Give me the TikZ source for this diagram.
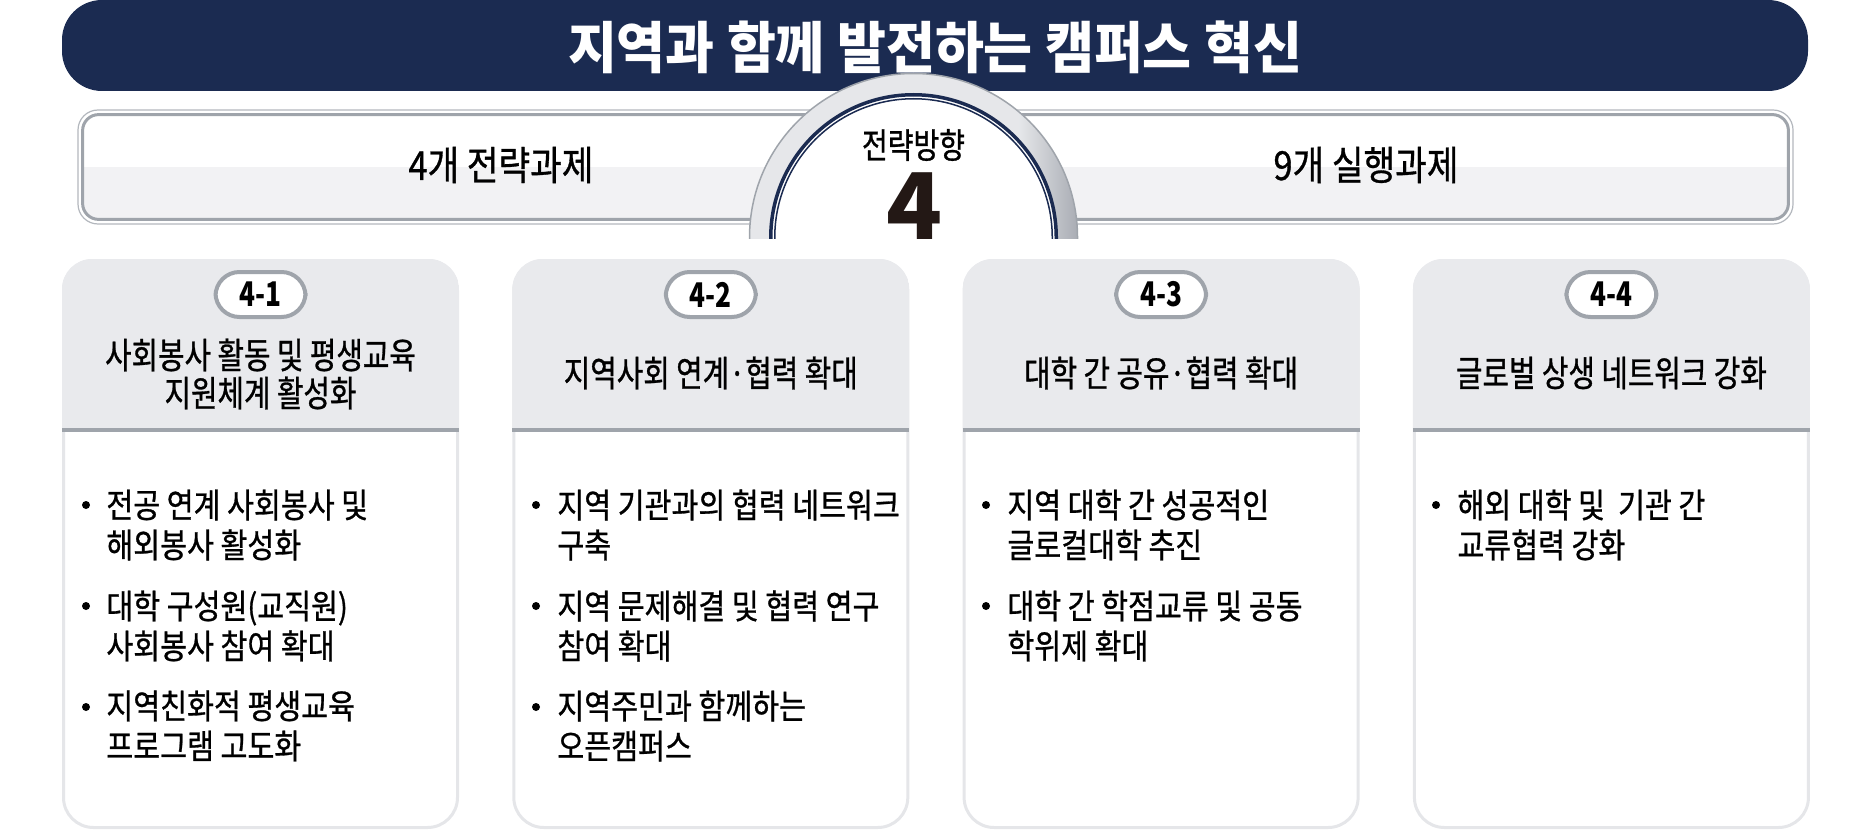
\documentclass[tikz,border=0pt]{standalone}
\usepackage{fontspec}
\setmainfont{Noto Sans CJK KR}[FakeStretch=0.77]
\newfontfamily\titlefont{Noto Sans CJK KR}[FakeStretch=0.95]
\newfontfamily\itemfont{Noto Sans CJK KR}[FakeStretch=0.86, FakeBold=0.8]
\newfontfamily\headfont{Noto Sans CJK KR}[FakeStretch=0.8, FakeBold=0.8]
\newfontfamily\bignumfont{Noto Sans CJK KR}
\definecolor{navy}{HTML}{1B2B51}
\definecolor{headgrey}{HTML}{E9EAED}
\definecolor{framegrey}{HTML}{E5E6E9}
\definecolor{rulegrey}{HTML}{9FA4AB}
\definecolor{bargrey}{HTML}{B3B7BD}
\definecolor{barfill}{HTML}{F2F2F4}
\definecolor{ringgrey}{HTML}{E6E7EA}
\definecolor{ringshade}{HTML}{A9ADB4}
\definecolor{numblack}{HTML}{231815}
\pgfdeclarehorizontalshading{ringshading}{100bp}{color(0bp)=(ringgrey); color(25bp)=(ringgrey); color(66bp)=(ringgrey); color(75bp)=(ringshade); color(100bp)=(ringshade)}
\begin{document}
\begin{tikzpicture}[x=0.5pt, y=-0.5pt,
  card/.style={draw=framegrey, line width=1.5pt, fill=white, rounded corners=15pt, minimum width=197pt, minimum height=283.5pt, inner sep=0pt},
  badge/.style={draw=rulegrey, line width=2pt, fill=white, rounded corners=12pt, minimum width=45pt, minimum height=22.5pt, inner sep=0pt, font=\bfseries\fontsize{17pt}{17pt}\selectfont},
  headtext/.style={align=center, inner sep=0pt, font=\headfont\fontsize{18pt}{19pt}\selectfont},
  itemtext/.style={anchor=west, align=left, inner sep=0pt, font=\itemfont\fontsize{17pt}{20pt}\selectfont},
  bulletdot/.style={circle, fill=black, inner sep=0pt, minimum size=4pt}]
\useasboundingbox (0,0) rectangle (1871,834);
% title bar
\node[fill=navy, rounded corners=20pt, minimum width=873pt, minimum height=45.5pt, inner sep=0pt] (titlebar) at (935,45.5) {};
% strategy bar
\node[draw=bargrey, line width=0.6pt, rounded corners=10pt, minimum width=857.5pt, minimum height=57pt, inner sep=0pt] (barout) at (935.5,167) {};
\node[minimum width=852.5pt, minimum height=52pt, inner sep=0pt] (barin) at (935.5,167) {};
\begin{scope}
\clip[rounded corners=8pt] (barin.north west) rectangle (barin.south east);
\fill[barfill] (barin.west) rectangle (barin.south east);
\end{scope}
\draw[rulegrey, line width=1.5pt, rounded corners=8pt] (barin.north west) rectangle (barin.south east);
% direction circle
\begin{scope}
\clip (700,50) rectangle (1130,238);
\node[circle, draw=rulegrey, line width=0.75pt, shading=ringshading, minimum size=164pt, inner sep=0pt] (ring) at (913.5,237.5) {};
\node[circle, draw=navy, line width=1.75pt, fill=white, minimum size=142.75pt, inner sep=0pt] (navyring) at (913.5,237.5) {};
\node[circle, draw=navy, line width=0.75pt, minimum size=138.75pt, inner sep=0pt] (innerring) at (913.5,237.5) {};
\end{scope}
\node[text=white, font=\titlefont\bfseries\fontsize{28pt}{28pt}\selectfont] (title) at (935,47) {지역과 함께 발전하는 캠퍼스 혁신};
\node[font=\headfont\fontsize{17.5pt}{17.5pt}\selectfont] (dirlabel) at (913.5,145) {전략방향};
\node[text=numblack, anchor=base, font=\bignumfont\bfseries\fontsize{46pt}{46pt}\selectfont] (dirnum) at (914,240) {4};
\node[font=\itemfont\fontsize{20pt}{20pt}\selectfont] (tasks) at (501,165) {4개 전략과제};
\node[font=\itemfont\fontsize{20pt}{20pt}\selectfont] (actions) at (1366,165) {9개 실행과제};
% cards
\foreach \n/\cx in {1/260.5, 2/710.8, 3/1161.1, 4/1611.4} {
  \node[card] (c\n) at (\cx,544) {};
  \begin{scope}
  \clip[rounded corners=15pt] (c\n.north west) rectangle (c\n.south east);
  \fill[headgrey] (c\n.north west) rectangle (c\n.east |- 0,430);
  \end{scope}
  \draw[rulegrey, line width=2pt] (c\n.west |- 0,430) -- (c\n.east |- 0,430);
}
\node[badge] (n1) at (c1 |- 0,294.5) {4-1};
\node[badge] (n2) at (c2 |- 0,294.5) {4-2};
\node[badge] (n3) at (c3 |- 0,294.5) {4-3};
\node[badge] (n4) at (c4 |- 0,294.5) {4-4};
\node[headtext] (h1) at (c1 |- 0,374) {사회봉사 활동 및 평생교육\\지원체계 활성화};
\node[headtext] (h2) at (c2 |- 0,373) {지역사회 연계·협력 확대};
\node[headtext] (h3) at (c3 |- 0,373) {대학 간 공유·협력 확대};
\node[headtext] (h4) at (c4 |- 0,373) {글로벌 상생 네트워크 강화};
% card 1 items
\node[bulletdot] (d11) at (86,505) {};
\node[itemtext] (t11) at (106,525) {전공 연계 사회봉사 및\\해외봉사 활성화};
\node[bulletdot] (d12) at (86,606) {};
\node[itemtext] (t12) at (106,626) {대학 구성원(교직원)\\사회봉사 참여 확대};
\node[bulletdot] (d13) at (86,707) {};
\node[itemtext] (t13) at (106,726) {지역친화적 평생교육\\프로그램 고도화};
% card 2 items
\node[bulletdot] (d21) at (536,505) {};
\node[itemtext] (t21) at (557,525) {지역 기관과의 협력 네트워크\\구축};
\node[bulletdot] (d22) at (536,606) {};
\node[itemtext] (t22) at (557,626) {지역 문제해결 및 협력 연구\\참여 확대};
\node[bulletdot] (d23) at (536,707) {};
\node[itemtext] (t23) at (557,726) {지역주민과 함께하는\\오픈캠퍼스};
% card 3 items
\node[bulletdot] (d31) at (986,505) {};
\node[itemtext] (t31) at (1007,525) {지역 대학 간 성공적인\\글로컬대학 추진};
\node[bulletdot] (d32) at (986,606) {};
\node[itemtext] (t32) at (1007,626) {대학 간 학점교류 및 공동\\학위제 확대};
% card 4 items
\node[bulletdot] (d41) at (1436,505) {};
\node[itemtext] (t41) at (1457,525) {해외 대학 및\ \ 기관 간\\교류협력 강화};
\end{tikzpicture}
\end{document}
